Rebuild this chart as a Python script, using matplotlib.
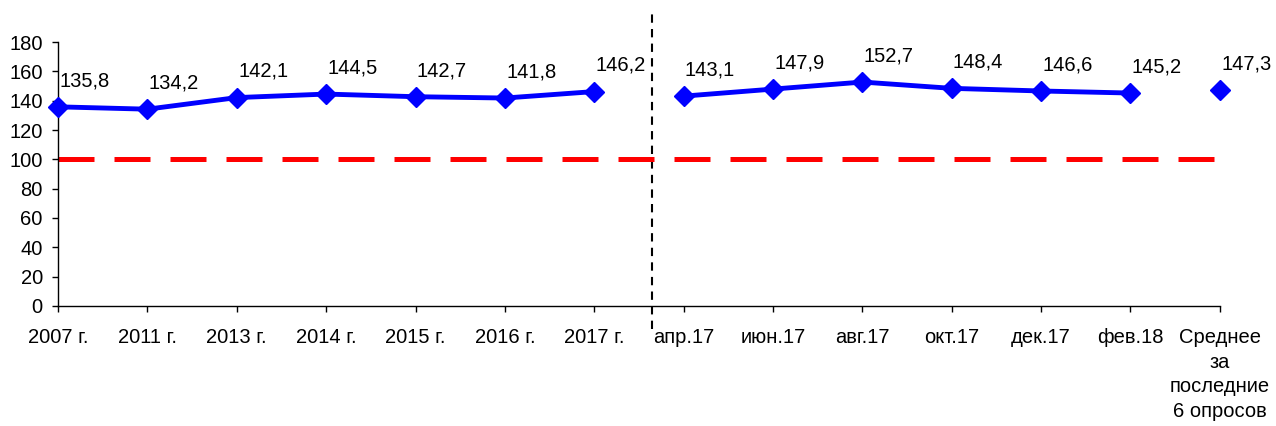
import matplotlib.pyplot as plt

plt.rcParams["font.family"] = ["Liberation Sans", "DejaVu Sans"]

# Категории по оси X
years = ["2007 г.", "2011 г.", "2013 г.", "2014 г.", "2015 г.", "2016 г.", "2017 г."]
months = ["апр.17", "июн.17", "авг.17", "окт.17", "дек.17", "фев.18"]
avg_label = "Среднее\nза\nпоследние\n6 опросов"

# Значения
year_vals = [135.8, 134.2, 142.1, 144.5, 142.7, 141.8, 146.2]
month_vals = [143.1, 147.9, 152.7, 148.4, 146.6, 145.2]
avg_val = 147.3
base_level = 100


def fmt(v):
    return f"{v:.1f}".replace(".", ",")


def plot_chart():
    labels = years + months + [avg_label]
    n_years = len(years)
    n_months = len(months)
    x_years = list(range(n_years))
    x_months = list(range(n_years, n_years + n_months))
    x_avg = n_years + n_months

    fig = plt.figure(figsize=(12.76, 4.26), dpi=100)
    ax = fig.add_axes([0.0455, 0.2817, 0.9105, 0.6197])

    # Базовый уровень 100
    ax.plot([0, x_avg], [base_level, base_level], color="#ff0000", lw=3.6,
            dashes=(7.2, 4.0), solid_capstyle="butt", dash_capstyle="butt",
            zorder=2)

    line_kw = dict(color="#0000ff", lw=3.5, marker="D", markersize=10.5,
                   zorder=3, clip_on=False)
    ax.plot(x_years, year_vals, **line_kw)
    ax.plot(x_months, month_vals, **line_kw)
    ax.plot([x_avg], [avg_val], **line_kw)

    # Подписи значений
    xs = x_years + x_months + [x_avg]
    vals = year_vals + month_vals + [avg_val]
    for x, v in zip(xs, vals):
        ax.annotate(fmt(v), (x, v), xytext=(19, 12), textcoords="offset points",
                    ha="center", va="bottom", fontsize=14.5, color="black")

    # Вертикальный разделитель
    sep_x = n_years - 0.35
    ax.plot([sep_x, sep_x], [-16, 201], color="black", lw=1.5,
            ls=(0, (4, 3)), clip_on=False, zorder=1)

    ax.set_xlim(0, x_avg)
    ax.set_ylim(0, 180)
    ax.set_yticks(range(0, 181, 20))
    ax.set_xticks(range(len(labels)))
    ax.set_xticklabels(labels, ha="center", multialignment="center",
                       linespacing=1.37)
    ax.tick_params(axis="both", labelsize=14.5, length=4, width=1,
                   direction="out", colors="black")
    ax.tick_params(axis="x", pad=12)
    ax.tick_params(axis="y", pad=7)
    ax.spines["top"].set_visible(False)
    ax.spines["right"].set_visible(False)
    for s in ("left", "bottom"):
        ax.spines[s].set_linewidth(1)
        ax.spines[s].set_color("black")

    plt.savefig("out.png", dpi=100)


if __name__ == "__main__":
    plot_chart()
